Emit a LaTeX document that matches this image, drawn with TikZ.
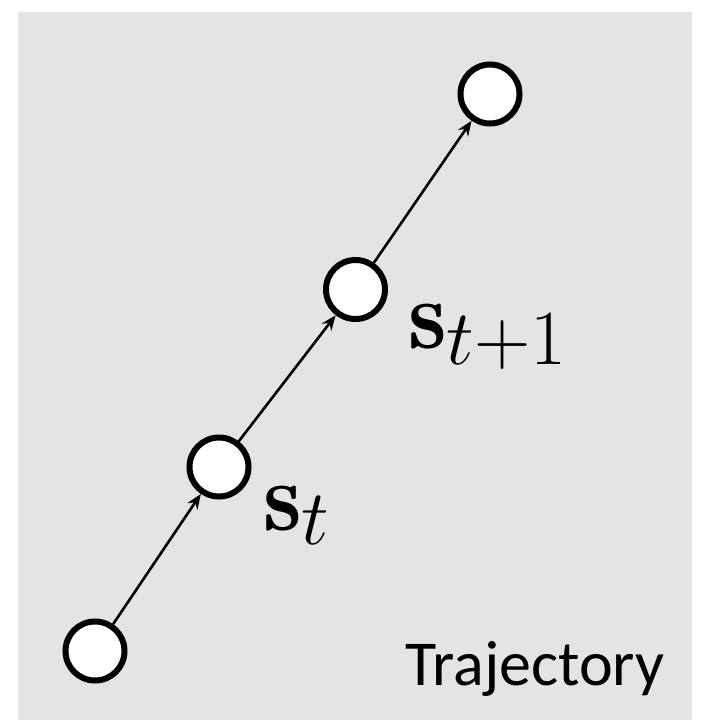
\RequirePackage{fix-cm}
\documentclass[tikz,border=0pt]{standalone}
\usepackage{fontspec}
\newfontfamily\calibri{Carlito}
\DeclareMathSizes{98}{98}{78}{58}
\usetikzlibrary{arrows.meta}
\definecolor{bggray}{RGB}{228,228,228}
\tikzset{
  state/.style={circle, draw=black, fill=white, line width=6pt, minimum size=59pt, inner sep=0pt},
  trans/.style={line width=2.6pt, -{Stealth[length=15pt,width=12pt]}},
  lbl/.style={inner sep=0pt, anchor=base west, font=\fontsize{98}{110}\selectfont}
}
\begin{document}
\begin{tikzpicture}[x=1pt,y=-1pt]
\useasboundingbox (0,0) rectangle (705,720);
\fill[bggray] (18,12) rectangle (692,720);
\node[state] (a) at (95,651) {};
\node[state] (b) at (219,467) {};
\node[state] (c) at (355.5,289.5) {};
\node[state] (d) at (490,94) {};
\draw[trans] (a) -- (b);
\draw[trans] (b) -- (c);
\draw[trans] (c) -- (d);
\node[lbl] (lb) at (263,530) {$\mathbf{s}_t$};
\node[lbl] (lc) at (408,348) {$\mathbf{s}_{t+1}$};
\node[inner sep=0pt, anchor=base west, font=\calibri\fontsize{64}{76}\selectfont] (traj) at (405,685) {Trajectory};
\end{tikzpicture}
\end{document}
